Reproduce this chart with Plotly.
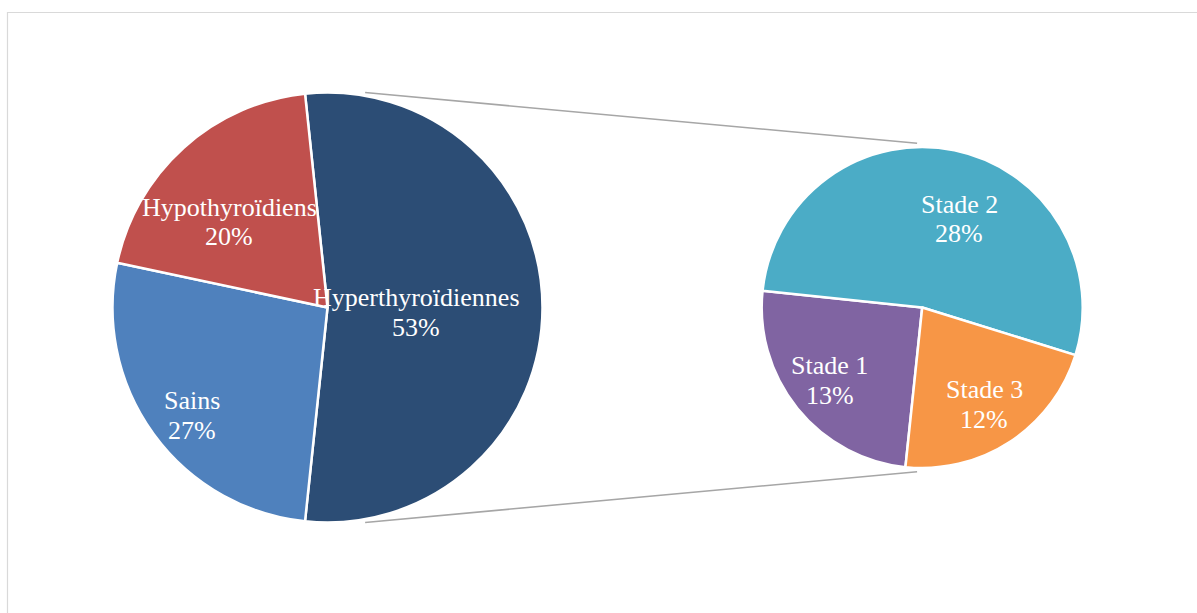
import math
import plotly.graph_objects as go

# ---------------- data (counts consistent with the displayed percentages) ----------------
main_labels = ["Hyperthyroïdiennes", "Sains", "Hypothyroïdiens"]
sub_labels = ["Stade 1", "Stade 2", "Stade 3"]
sub_values = [8, 17, 7]
main_values = [sum(sub_values), 16, 12]

# ---------------- style / layout ----------------
W, H = 1197, 613
main_colors = ["#2C4D75", "#4F81BD", "#C0504D"]
sub_colors = ["#8064A2", "#4BACC6", "#F79646"]
left_c, left_r = (327.5, 307.5), 215.0
right_c, right_r = (922.2, 307.5), 160.5
# label positions (angle clockwise from 12 o'clock, fraction of radius)
main_label_pos = [(93.1, 0.413), (231.4, 0.805), (311.1, 0.605)]
sub_label_pos = [(231.7, 0.733), (22.8, 0.598), (147.3, 0.717)]
FONT = "Liberation Serif, Times New Roman, serif"
FS = 26
LINE_GAP = 14.75

total = sum(main_values)
split_deg = 360.0 * main_values[0] / total
left_rot = 90 - split_deg / 2          # split slice centred on 3 o'clock
right_rot = 180 - left_rot             # secondary pie orientation


def dom(c, r):
    return dict(x=[(c[0] - r) / W, (c[0] + r) / W],
                y=[1 - (c[1] + r) / H, 1 - (c[1] - r) / H])


def pt(c, r, ang):
    a = math.radians(ang)
    return c[0] + r * math.sin(a), c[1] - r * math.cos(a)


fig = go.Figure()
fig.add_trace(go.Pie(labels=main_labels, values=main_values, sort=False,
                     direction="clockwise", rotation=left_rot,
                     marker=dict(colors=main_colors, line=dict(color="white", width=2.5)),
                     textinfo="none", hoverinfo="label+percent",
                     domain=dom(left_c, left_r), showlegend=False))
fig.add_trace(go.Pie(labels=sub_labels, values=sub_values, sort=False,
                     direction="clockwise", rotation=right_rot,
                     marker=dict(colors=sub_colors, line=dict(color="white", width=2.5)),
                     textinfo="none", hoverinfo="label+value",
                     domain=dom(right_c, right_r), showlegend=False))

annotations = []


def add_labels(labels, values, c, r, positions):
    for lab, v, (ang, f) in zip(labels, values, positions):
        x, y = pt(c, r * f, ang)
        pct = f"{round(100 * v / total)}%"
        for txt, dy in ((lab, -LINE_GAP), (pct, LINE_GAP)):
            annotations.append(dict(x=x / W, y=1 - (y + dy) / H, xref="paper", yref="paper",
                                    text=txt, showarrow=False, xanchor="center", yanchor="middle",
                                    font=dict(family=FONT, size=FS, color="white")))


add_labels(main_labels, main_values, left_c, left_r, main_label_pos)
add_labels(sub_labels, sub_values, right_c, right_r, sub_label_pos)

# connector lines: external tangents of the two pies (slightly outside the edges)
shapes = []
pad = 2.5
d = right_c[0] - left_c[0]
a = 90 - math.degrees(math.acos((left_r - right_r) / d))   # tangent angle from 12 o'clock
for ang in (a, 180 - a):
    p1 = pt(left_c, left_r + pad, ang)
    p2 = pt(right_c, right_r + pad, ang)
    t0, t1 = 0.03, 0.966
    s = (p1[0] + t0 * (p2[0] - p1[0]), p1[1] + t0 * (p2[1] - p1[1]))
    e = (p1[0] + t1 * (p2[0] - p1[0]), p1[1] + t1 * (p2[1] - p1[1]))
    shapes.append(dict(type="line", xref="paper", yref="paper",
                       x0=s[0] / W, y0=1 - s[1] / H, x1=e[0] / W, y1=1 - e[1] / H,
                       line=dict(color="#A6A6A6", width=1.5), layer="below"))
# chart frame
shapes.append(dict(type="rect", xref="paper", yref="paper",
                   x0=7.5 / W, y0=1 - 12.5 / H, x1=1210 / W, y1=-20 / H,
                   line=dict(color="#D9D9D9", width=1.2), layer="below"))

fig.update_layout(width=W, height=H, margin=dict(l=0, r=0, t=0, b=0),
                  paper_bgcolor="white", plot_bgcolor="white",
                  annotations=annotations, shapes=shapes, showlegend=False)
fig.write_html("out.html")
